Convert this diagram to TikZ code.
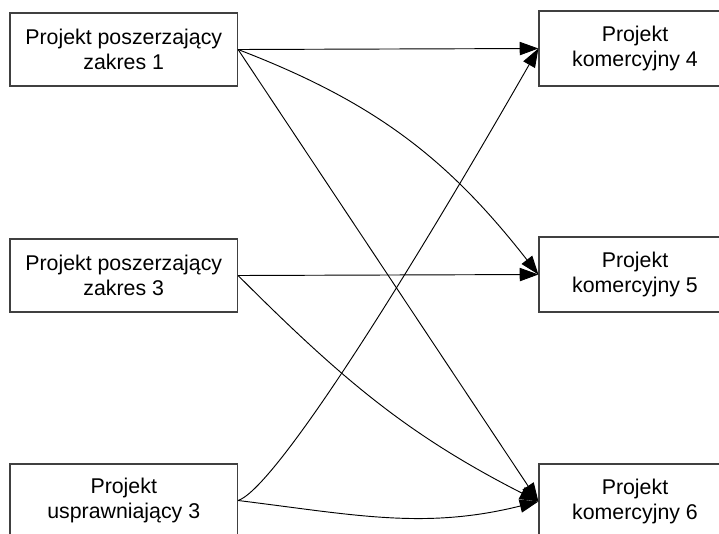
\documentclass[tikz,border=0pt]{standalone}
\usepackage{fontspec}
\setmainfont{Liberation Sans}
\usetikzlibrary{arrows.meta}
\tikzset{
  box/.style={draw=black!75, line width=0.9pt, align=center, inner sep=0pt,
    font=\fontsize{16pt}{18.75pt}\selectfont},
  leftbox/.style={box, minimum width=170.6pt, minimum height=54.75pt},
  rightbox/.style={box, minimum width=144pt, minimum height=56.25pt},
  link/.style={draw=black, line width=0.7pt, -{Triangle[length=14pt, width=10pt]}}
}
\begin{document}
\begin{tikzpicture}[x=0.75pt, y=-0.75pt]
  \useasboundingbox (0,0) rectangle (719,533);
  \clip (0,0) rectangle (719,533);
  % source projects
  \node[leftbox] (l1) at (123.75,49.5) {Projekt poszerzający\\zakres 1};
  \node[leftbox] (l2) at (123.75,275.5) {Projekt poszerzający\\zakres 3};
  \node[leftbox] (l3) at (123.75,500.5) {Projekt\\usprawniający 3};
  % commercial projects
  \node[rightbox] (r4) at (635,48.5) {Projekt\\komercyjny 4};
  \node[rightbox] (r5) at (635,274.5) {Projekt\\komercyjny 5};
  \node[rightbox] (r6) at (635,501.5) {Projekt\\komercyjny 6};
  % dependencies
  \draw[link] (l1.east) -- (r4.west);
  \draw[link] (l1.east) to[out=-21, in=128] (r5.west);
  \draw[link] (l1.east) -- (r6.west);
  \draw[link] (l2.east) -- (r5.west);
  \draw[link] (l2.east) to[out=-45, in=153] (r6.west);
  \draw[link] (l3.east) .. controls (270,490) and (380,325) .. (r4.west);
  \draw[link] (l3.east) to[out=-7, in=194] (r6.west);
\end{tikzpicture}
\end{document}
